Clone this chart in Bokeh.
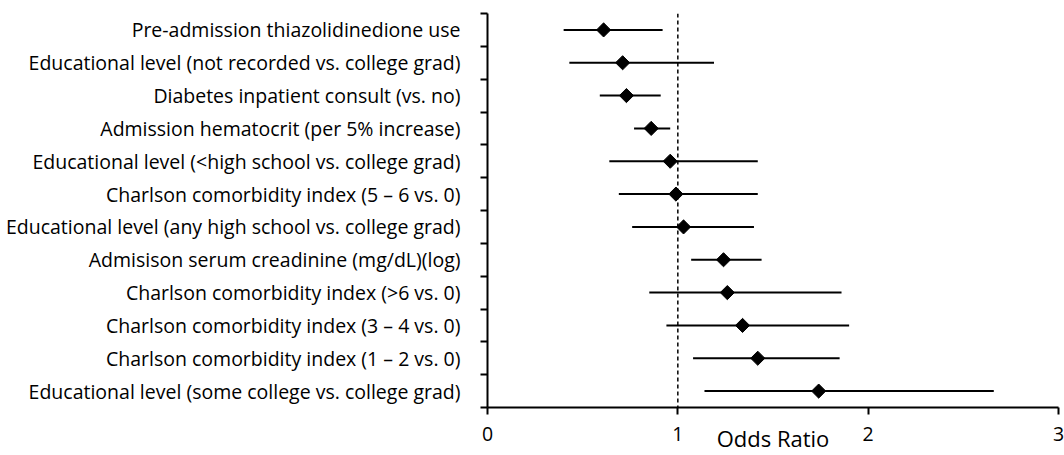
import math
from bokeh.plotting import figure
from bokeh.models import Range1d, FixedTicker, ColumnDataSource, Span
from bokeh.embed import file_html
from bokeh.resources import INLINE

labels = [
    "Pre-admission thiazolidinedione use",
    "Educational level (not recorded vs. college grad)",
    "Diabetes inpatient consult (vs. no)",
    "Admission hematocrit (per 5% increase)",
    "Educational level (<high school vs. college grad)",
    "Charlson comorbidity index (5 \u2013 6 vs. 0)",
    "Educational level (any high school vs. college grad)",
    "Admisison serum creadinine (mg/dL)(log)",
    "Charlson comorbidity index (>6 vs. 0)",
    "Charlson comorbidity index (3 \u2013 4 vs. 0)",
    "Charlson comorbidity index (1 \u2013 2 vs. 0)",
    "Educational level (some college vs. college grad)",
]
odds = [0.61, 0.71, 0.73, 0.86, 0.96, 0.99, 1.03, 1.24, 1.26, 1.34, 1.42, 1.74]
ci_low = [0.40, 0.43, 0.59, 0.77, 0.64, 0.69, 0.76, 1.07, 0.85, 0.94, 1.08, 1.14]
ci_high = [0.92, 1.19, 0.91, 0.96, 1.42, 1.42, 1.40, 1.44, 1.86, 1.90, 1.85, 2.66]
x_ticks = [0, 1, 2, 3]

n = len(labels)
ypos = [n - 0.5 - i for i in range(n)]
src = ColumnDataSource(dict(y=ypos, odds=odds, lo=ci_low, hi=ci_high))

FONT = "Open Sans"
FS = "19.5px"

p = figure(width=1064, height=455, output_backend="svg", toolbar_location=None,
           x_range=Range1d(0, 3), y_range=Range1d(0, n),
           min_border_left=487, min_border_right=6, min_border_top=13, min_border_bottom=47)
p.outline_line_color = None
p.xgrid.visible = False
p.ygrid.visible = False
p.background_fill_color = "white"
p.border_fill_color = "white"

p.segment(x0="lo", x1="hi", y0="y", y1="y", source=src, line_color="black", line_width=2)
p.scatter(x="odds", y="y", source=src, marker="square", angle=math.pi / 4, size=10,
          fill_color="black", line_color="black")

ref = Span(location=1, dimension="height", line_color="black", line_width=1.5, line_dash="4 3")
p.add_layout(ref)

# x axis
xa = p.xaxis[0]
xa.ticker = FixedTicker(ticks=x_ticks)
xa.axis_line_width = 2
xa.major_tick_line_width = 2
xa.major_tick_out = 7
xa.major_tick_in = 0
xa.minor_tick_out = 0
xa.minor_tick_in = 0
xa.major_label_text_font = FONT
xa.major_label_text_font_size = FS
xa.major_label_text_color = "black"
xa.major_label_standoff = 12
xa.axis_label = "Odds Ratio"
xa.axis_label_text_font = FONT
xa.axis_label_text_font_size = "22px"
xa.axis_label_text_font_style = "normal"
xa.axis_label_text_color = "black"
xa.axis_label_text_line_height = 0.8
xa.axis_label_standoff = -21

# y axis
ya = p.yaxis[0]
ya.ticker = FixedTicker(ticks=ypos, minor_ticks=list(range(n + 1)))
ya.major_label_overrides = {y: lab for y, lab in zip(ypos, labels)}
ya.axis_line_width = 2
ya.major_tick_out = 0
ya.major_tick_in = 0
ya.minor_tick_out = 7
ya.minor_tick_in = 0
ya.minor_tick_line_width = 2
ya.major_label_text_font = FONT
ya.major_label_text_font_size = FS
ya.major_label_text_color = "black"
ya.major_label_standoff = 20

open("out.html", "w").write(file_html(p, INLINE))
